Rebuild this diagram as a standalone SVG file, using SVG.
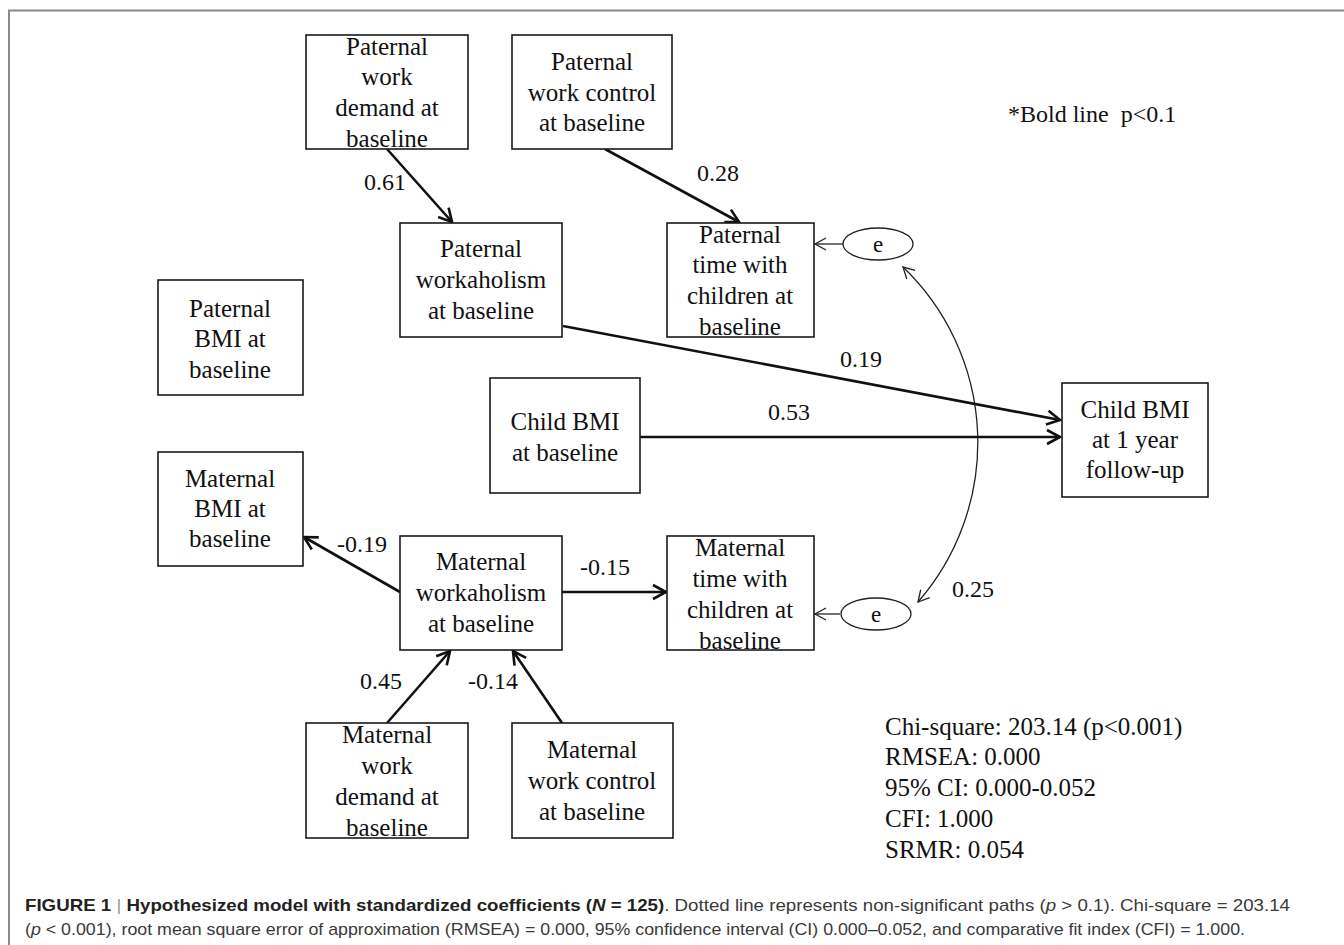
<svg xmlns="http://www.w3.org/2000/svg" width="1344" height="945" viewBox="0 0 1344 945">
<defs>
<style>
.box{fill:#fff;stroke:#1a1a1a;stroke-width:1.6}
.t{font-family:"Liberation Serif","Times New Roman",serif;font-size:25px;fill:#111;text-anchor:middle}
.lbl{font-family:"Liberation Serif","Times New Roman",serif;font-size:24px;fill:#111}
.thick{fill:none;stroke:#111;stroke-width:2.6;marker-end:url(#ah)}
.thin{fill:none;stroke:#222;stroke-width:1.3}
.cap{font-family:"Liberation Sans Narrow","Liberation Sans",Arial,sans-serif;font-size:17px;fill:#3a3a3a}
.b{font-weight:bold;fill:#222}
.i{font-style:italic}
</style>
<marker id="ah" markerUnits="userSpaceOnUse" markerWidth="18" markerHeight="18" viewBox="0 0 18 18" refX="15" refY="9" orient="auto">
<path d="M2,2 L15,9 L2,16" fill="none" stroke="#111" stroke-width="2.6"/>
</marker>
<marker id="ahs" markerUnits="userSpaceOnUse" markerWidth="14" markerHeight="14" viewBox="0 0 14 14" refX="12" refY="7" orient="auto-start-reverse">
<path d="M1,1 L12,7 L1,13" fill="none" stroke="#222" stroke-width="1.3"/>
</marker>
<clipPath id="statclip"><rect x="870" y="700" width="400" height="160"/></clipPath>
</defs>
<rect width="1344" height="945" fill="#fff"/>
<path d="M9,945 L9,10.5 L1344,10.5" fill="none" stroke="#8a8a8a" stroke-width="2"/>

<g id="connectors">
<path class="thick" d="M387,149 L452,222"/>
<path class="thick" d="M605,149 L739,222"/>
<path class="thick" d="M563,326 L1060,420"/>
<path class="thick" d="M640,437 L1060,437"/>
<path class="thick" d="M400,592 L304,537"/>
<path class="thick" d="M562,592 L666,592"/>
<path class="thick" d="M387,723 L450,651"/>
<path class="thick" d="M562,723 L513,651"/>
<path class="thin" d="M843,244 L815,244" marker-end="url(#ahs)"/>
<path class="thin" d="M840,614 L815,614" marker-end="url(#ahs)"/>
<path class="thin" d="M903,267 A243,243 0 0 1 918,602" marker-start="url(#ahs)" marker-end="url(#ahs)"/>
<text class="lbl" x="364" y="190">0.61</text>
<text class="lbl" x="697" y="181">0.28</text>
<text class="lbl" x="840" y="367">0.19</text>
<text class="lbl" x="768" y="420">0.53</text>
<text class="lbl" x="337" y="552">-0.19</text>
<text class="lbl" x="580" y="575">-0.15</text>
<text class="lbl" x="360" y="689">0.45</text>
<text class="lbl" x="468" y="689">-0.14</text>
<text class="lbl" x="952" y="597">0.25</text>
</g>

<g id="pat_demand">
<rect class="box" x="306" y="35" width="162" height="114"/>
<text class="t" x="387" y="55">Paternal</text>
<text class="t" x="387" y="85">work</text>
<text class="t" x="387" y="116">demand at</text>
<text class="t" x="387" y="147">baseline</text>
</g>
<g id="pat_control">
<rect class="box" x="512" y="35" width="160" height="114"/>
<text class="t" x="592" y="70">Paternal</text>
<text class="t" x="592" y="101">work control</text>
<text class="t" x="592" y="131">at baseline</text>
</g>
<g id="pat_workaholism">
<rect class="box" x="400" y="223" width="162" height="114"/>
<text class="t" x="481" y="257">Paternal</text>
<text class="t" x="481" y="288">workaholism</text>
<text class="t" x="481" y="319">at baseline</text>
</g>
<g id="pat_time">
<rect class="box" x="667" y="223" width="147" height="114"/>
<text class="t" x="740" y="243">Paternal</text>
<text class="t" x="740" y="273">time with</text>
<text class="t" x="740" y="304">children at</text>
<text class="t" x="740" y="335">baseline</text>
</g>
<g id="e_top">
<ellipse cx="878" cy="244" rx="35" ry="16" fill="#fff" stroke="#222" stroke-width="1.3"/>
<text class="t" x="878" y="252" style="font-size:23px">e</text>
</g>
<g id="pat_bmi">
<rect class="box" x="158" y="280" width="145" height="115"/>
<text class="t" x="230" y="317">Paternal</text>
<text class="t" x="230" y="347">BMI at</text>
<text class="t" x="230" y="378">baseline</text>
</g>
<g id="child_bmi_base">
<rect class="box" x="490" y="378" width="150" height="115"/>
<text class="t" x="565" y="430">Child BMI</text>
<text class="t" x="565" y="461">at baseline</text>
</g>
<g id="child_bmi_follow">
<rect class="box" x="1062" y="383" width="146" height="114"/>
<text class="t" x="1135" y="418">Child BMI</text>
<text class="t" x="1135" y="448">at 1 year</text>
<text class="t" x="1135" y="478">follow-up</text>
</g>
<g id="mat_bmi">
<rect class="box" x="158" y="452" width="145" height="114"/>
<text class="t" x="230" y="487">Maternal</text>
<text class="t" x="230" y="517">BMI at</text>
<text class="t" x="230" y="547">baseline</text>
</g>
<g id="mat_workaholism">
<rect class="box" x="400" y="536" width="162" height="114"/>
<text class="t" x="481" y="570">Maternal</text>
<text class="t" x="481" y="601">workaholism</text>
<text class="t" x="481" y="632">at baseline</text>
</g>
<g id="mat_time">
<rect class="box" x="667" y="536" width="147" height="114"/>
<text class="t" x="740" y="556">Maternal</text>
<text class="t" x="740" y="587">time with</text>
<text class="t" x="740" y="618">children at</text>
<text class="t" x="740" y="649">baseline</text>
</g>
<g id="e_bottom">
<ellipse cx="876" cy="614" rx="35" ry="16" fill="#fff" stroke="#222" stroke-width="1.3"/>
<text class="t" x="876" y="622" style="font-size:23px">e</text>
</g>
<g id="mat_demand">
<rect class="box" x="306" y="723" width="162" height="115"/>
<text class="t" x="387" y="743">Maternal</text>
<text class="t" x="387" y="774">work</text>
<text class="t" x="387" y="805">demand at</text>
<text class="t" x="387" y="836">baseline</text>
</g>
<g id="mat_control">
<rect class="box" x="512" y="723" width="161" height="115"/>
<text class="t" x="592" y="758">Maternal</text>
<text class="t" x="592" y="789">work control</text>
<text class="t" x="592" y="820">at baseline</text>
</g>

<g id="notes">
<text class="lbl" x="1008" y="122" style="white-space:pre">*Bold line  p&lt;0.1</text>
<g clip-path="url(#statclip)">
<text class="lbl" x="885" y="735" style="font-size:25px">Chi-square: 203.14 (p&lt;0.001)</text>
<text class="lbl" x="885" y="765" style="font-size:25px">RMSEA: 0.000</text>
<text class="lbl" x="885" y="796" style="font-size:25px">95% CI: 0.000-0.052</text>
<text class="lbl" x="885" y="827" style="font-size:25px">CFI: 1.000</text>
<text class="lbl" x="885" y="858" style="font-size:25px">SRMR: 0.054</text>
</g>
</g>

<g id="caption">
<text class="cap" x="25" y="911" textLength="1265" lengthAdjust="spacingAndGlyphs"><tspan class="b">FIGURE 1</tspan><tspan fill="#999"> | </tspan><tspan class="b">Hypothesized model with standardized coefficients (</tspan><tspan class="b i">N</tspan><tspan class="b"> = 125)</tspan>. Dotted line represents non-significant paths (<tspan class="i">p</tspan> &gt; 0.1). Chi-square = 203.14</text>
<text class="cap" x="25" y="935" textLength="1220" lengthAdjust="spacingAndGlyphs">(<tspan class="i">p</tspan> &lt; 0.001), root mean square error of approximation (RMSEA) = 0.000, 95% confidence interval (CI) 0.000–0.052, and comparative fit index (CFI) = 1.000.</text>
</g>
</svg>
